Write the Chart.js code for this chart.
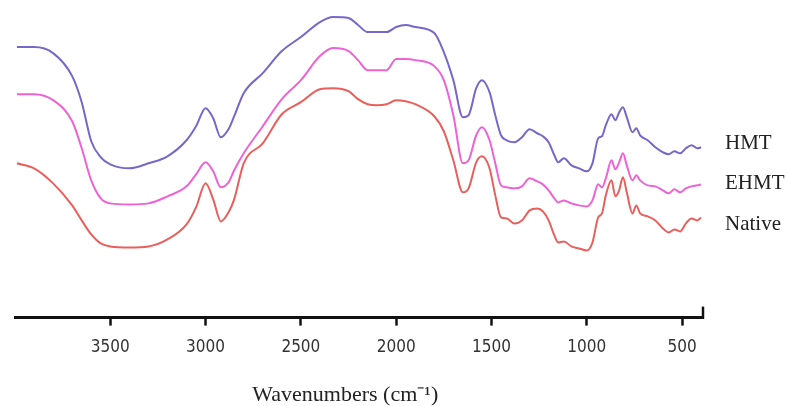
<!DOCTYPE html>
<html>
<head>
<meta charset="utf-8">
<script src="https://cdn.jsdelivr.net/npm/chart.js@4/dist/chart.umd.min.js"></script>
<style>
  html, body { margin: 0; padding: 0; background: #fff; }
  #wrap { width: 787px; height: 406px; }
</style>
</head>
<body>
<div id="wrap"><canvas id="ftirChart"></canvas></div>
<script>
// wavenumbers (cm-1), shared by the three spectra
const wavenumbers = [3990, 3900, 3800, 3700, 3650, 3600, 3550, 3500, 3400, 3300,
    3200, 3100, 3050, 3000, 2960, 2920, 2880, 2850, 2800, 2700,
    2600, 2500, 2400, 2330, 2250, 2200, 2150, 2100, 2050, 2000,
    1950, 1900, 1800, 1750, 1700, 1650, 1620, 1580, 1550, 1510,
    1480, 1450, 1420, 1380, 1340, 1300, 1260, 1230, 1200, 1170,
    1150, 1120, 1080, 1040, 1000, 970, 940, 920, 900, 870,
    850, 830, 810, 790, 760, 740, 720, 680, 640, 600,
    570, 540, 510, 480, 450, 420, 400];

// transmittance (arbitrary units, curves stacked)
const hmt = [273, 273, 267, 244, 218, 179, 163, 156, 152, 157,
    164, 180, 194, 212, 202, 183, 191, 204, 227, 247,
    269, 283, 298, 303, 302, 295, 288, 288, 288, 293,
    295, 293, 287, 268, 240, 203, 205, 232, 240, 228,
    205, 185, 180, 178, 183, 191, 187, 184, 178, 165,
    158, 162, 155, 152, 149, 157, 182, 184, 195, 206,
    200, 208, 213, 203, 188, 192, 185, 180, 173, 168,
    166, 169, 167, 172, 175, 172, 173];

const ehmt = [226, 226, 220, 199, 172, 140, 122, 117, 116, 117,
    124, 134, 146, 158, 149, 133, 138, 150, 167, 194,
    221, 240, 264, 272, 269, 260, 250, 250, 250, 261,
    261, 260, 254, 240, 205, 157, 160, 185, 193, 180,
    157, 135, 133, 132, 134, 142, 139, 136, 130, 122,
    118, 120, 117, 115, 114, 120, 136, 133, 142, 160,
    151, 158, 167, 155, 140, 145, 140, 135, 134, 130,
    127, 131, 128, 132, 134, 135, 136];

const native = [157, 152, 137, 115, 100, 86, 77, 74, 73, 74,
    81, 96, 113, 137, 121, 99, 108, 121, 157, 177,
    206, 218, 231, 232, 229, 221, 216, 215, 216, 220,
    219, 216, 204, 189, 160, 128, 132, 158, 164, 152,
    125, 103, 102, 97, 100, 110, 112, 109, 100, 85,
    78, 79, 74, 72, 70, 78, 103, 107, 125, 140,
    124, 130, 143, 128, 107, 115, 107, 104, 100, 92,
    88, 91, 89, 97, 102, 100, 103];

const tickValues = [3500, 3000, 2500, 2000, 1500, 1000, 500];

function toPoints(values) {
    return wavenumbers.map((w, i) => ({x: w, y: values[i]}));
}

// names written at the right end of each spectrum
const endLabels = {
    id: "endLabels",
    afterDatasetsDraw(chart) {
        const ctx = chart.ctx;
        ctx.save();
        ctx.font = "21px 'Liberation Serif', 'Times New Roman', serif";
        ctx.fillStyle = "#222";
        ctx.textBaseline = "middle";
        chart.data.datasets.forEach((ds, i) => {
            const pts = chart.getDatasetMeta(i).data;
            const last = pts[pts.length - 1];
            ctx.fillText(ds.label, chart.chartArea.right + 22, last.y + (ds.labelShift || 0));
        });
        ctx.restore();
    }
};

// little upright tick closing the axis on the right
const axisEnd = {
    id: "axisEnd",
    afterDraw(chart) {
        const ctx = chart.ctx;
        const a = chart.chartArea;
        ctx.save();
        ctx.strokeStyle = "#111";
        ctx.lineWidth = 2.5;
        ctx.beginPath();
        ctx.moveTo(a.right, a.bottom - 11);
        ctx.lineTo(a.right, a.bottom + 1);
        ctx.stroke();
        ctx.restore();
    }
};

new Chart("ftirChart", {
    type: "line",
    data: {
        datasets: [{
            label: "HMT",
            data: toPoints(hmt),
            borderColor: "#7667c9",
            labelShift: -4
        }, {
            label: "EHMT",
            data: toPoints(ehmt),
            borderColor: "#ee62d6",
            labelShift: -1
        }, {
            label: "Native",
            data: toPoints(native),
            borderColor: "#e85f5c",
            labelShift: 7
        }]
    },
    options: {
        responsive: true,
        maintainAspectRatio: false,
        animation: false,
        layout: {padding: {left: 15, right: 84, top: 0, bottom: 0}},
        elements: {
            point: {radius: 0},
            line: {borderWidth: 2, cubicInterpolationMode: "monotone"}
        },
        plugins: {
            legend: {display: false},
            tooltip: {enabled: false}
        },
        scales: {
            x: {
                type: "linear",
                reverse: true,
                min: 390,
                max: 4000,
                afterBuildTicks: (axis) => {
                    axis.ticks = tickValues.map(v => ({value: v}));
                },
                grid: {
                    drawOnChartArea: false,
                    drawTicks: true,
                    tickLength: 8,
                    tickWidth: 2.5,
                    tickColor: "#111"
                },
                border: {display: true, color: "#111", width: 3},
                ticks: {
                    padding: 12,
                    color: "#333",
                    font: {family: "'Liberation Sans Narrow', 'DejaVu Sans Condensed', sans-serif", size: 17},
                    maxRotation: 0,
                    callback: (v) => String(v)
                },
                title: {
                    display: true,
                    text: "Wavenumbers (cm\u207B\u00B9)     ",
                    color: "#222",
                    font: {family: "'Liberation Serif', 'Times New Roman', serif", size: 22, lineHeight: 1},
                    padding: {top: 14, bottom: 0}
                }
            },
            y: {
                display: false,
                min: 3,
                max: 320
            }
        }
    },
    plugins: [endLabels, axisEnd]
});
</script>
</body>
</html>
